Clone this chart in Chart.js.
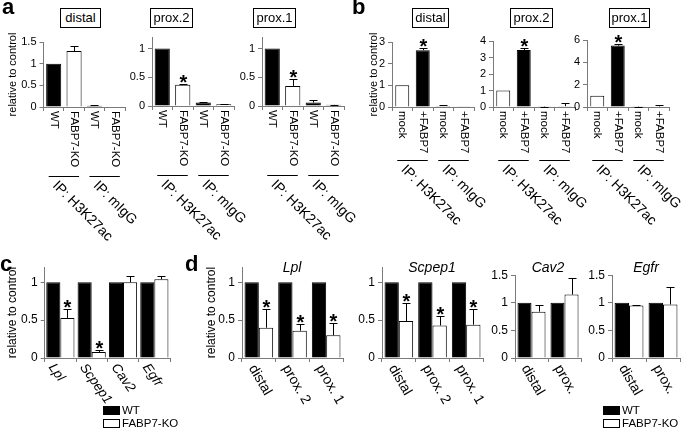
<!DOCTYPE html>
<html lang="en">
<head>
<meta charset="UTF-8">
<title>FABP7 ChIP / qPCR</title>
<script src="https://cdn.jsdelivr.net/npm/chart.js@4.4.0/dist/chart.umd.min.js"></script>
<style>
  body { margin: 0; background: #fff; }
  #fig { position: relative; width: 683px; height: 431px; overflow: hidden; font-family: "Liberation Sans", Arial, sans-serif; color: #000; background: #fff; }
  #fig canvas { position: absolute; }
  .t { position: absolute; white-space: nowrap; line-height: 1; }
  .box { position: absolute; top: 8px; height: 20px; border: 1px solid #000; box-sizing: border-box; line-height: 18px; text-align: center; font-size: 13px; }
  .sw { position: absolute; width: 17px; height: 9px; border: 1px solid #000; box-sizing: border-box; }
</style>
</head>
<body>
<div id="fig"></div>
<script>
// ---- data ----
const catsA = ["WT", "FABP7-KO", "WT", "FABP7-KO"];
const catsB = ["mock", "+FABP7", "mock", "+FABP7"];
const ipGroups = ["IP: H3K27ac", "IP: mIgG"];

// a: FABP7-KO astrocytes, ChIP
const aDistal = [1.0, 1.29, 0.03, 0.005];
const aDistalErr = [0, 0.12, 0.01, 0];
const aDistalStar = [0, 0, 0, 0];
const aProx2 = [1.0, 0.37, 0.06, 0.03];
const aProx2Err = [0, 0.02, 0.01, 0.01];
const aProx2Star = [0, 1, 0, 0];
const aProx1 = [1.0, 0.35, 0.06, 0.02];
const aProx1Err = [0, 0.12, 0.04, 0.005];
const aProx1Star = [0, 1, 0, 0];

// b: FABP7 overexpression, ChIP
const bDistal = [1.0, 2.62, 0.05, 0.01];
const bDistalErr = [0, 0.1, 0.04, 0];
const bDistalStar = [0, 1, 0, 0];
const bProx2 = [1.0, 3.45, 0.02, 0.05];
const bProx2Err = [0, 0.12, 0.01, 0.2];
const bProx2Star = [0, 1, 0, 0];
const bProx1 = [1.0, 5.5, 0.03, 0.05];
const bProx1Err = [0, 0.1, 0.01, 0.12];
const bProx1Star = [0, 1, 0, 0];

// c: mRNA
const genes = ["Lpl", "Scpep1", "Cav2", "Egfr"];
const cWT = [1, 1, 1, 1];
const cKO = [0.53, 0.08, 1.0, 1.04];
const cKOErr = [0.12, 0.02, 0.09, 0.04];
const cKOStar = [1, 1, 0, 0];

// d: H3K27ac at each locus
const regions3 = ["distal", "prox. 2", "prox. 1"];
const regions2 = ["distal", "prox."];
const lplWT = [1, 1, 1];
const lplKO = [0.40, 0.36, 0.30];
const lplKOErr = [0.25, 0.09, 0.16];
const lplKOStar = [1, 1, 1];
const scpWT = [1, 1, 1];
const scpKO = [0.49, 0.43, 0.44];
const scpKOErr = [0.24, 0.12, 0.21];
const scpKOStar = [1, 1, 1];
const cavWT = [1, 1];
const cavKO = [0.84, 1.15];
const cavKOErr = [0.12, 0.30];
const egfWT = [1, 1];
const egfKO = [0.95, 0.97];
const egfKOErr = [0.01, 0.31];

// ---- drawing ----
const fig = document.getElementById('fig');
const AX = '#7a7a7a';
const FF = '"Liberation Sans", Arial, sans-serif';

function text(str, x, base, size, opt = {}) {
  const d = document.createElement('div');
  d.className = 't';
  d.textContent = str;
  d.style.fontSize = size + 'px';
  if (opt.bold) d.style.fontWeight = 'bold';
  if (opt.italic) d.style.fontStyle = 'italic';
  d.style.top = (base - 0.8465 * size) + 'px';
  d.style.left = x + 'px';
  if (opt.center) d.style.transform = 'translateX(-50%)';
  fig.appendChild(d);
}

function titleBox(str, left, width) {
  const d = document.createElement('div');
  d.className = 'box';
  d.textContent = str;
  d.style.left = left + 'px';
  d.style.width = width + 'px';
  fig.appendChild(d);
}

function swatch(left, top, fill) {
  const d = document.createElement('div');
  d.className = 'sw';
  d.style.left = left + 'px';
  d.style.top = top + 'px';
  d.style.background = fill;
  fig.appendChild(d);
}

function bars(c) {
  const padTop = 10, padR = c.padR ?? 20;
  const cv = document.createElement('canvas');
  cv.width = c.yw + (c.right - c.axisX) + padR;
  cv.height = padTop + (c.y0 - c.yTop) + c.padB;
  cv.style.left = (c.axisX - c.yw) + 'px';
  cv.style.top = (c.yTop - padTop) + 'px';
  fig.appendChild(cv);

  const deco = {
    id: 'deco',
    afterDatasetsDraw(ch) {
      const ctx = ch.ctx, ys = ch.scales.y;
      ctx.save();
      ctx.strokeStyle = '#000';
      ctx.fillStyle = '#000';
      ctx.lineWidth = 1;
      c.sets.forEach((s, i) => {
        const meta = ch.getDatasetMeta(i);
        s.data.forEach((v, j) => {
          const x = Math.round(meta.data[j].x) + 0.5;
          let top = ys.getPixelForValue(v);
          const e = s.err ? s.err[j] : 0;
          if (e > 0) {
            const yt = Math.round(ys.getPixelForValue(v + e)) + 0.5;
            ctx.beginPath();
            ctx.moveTo(x, top);
            ctx.lineTo(x, yt);
            ctx.moveTo(x - 4, yt);
            ctx.lineTo(x + 4, yt);
            ctx.stroke();
            top = yt;
          }
          if (s.star && s.star[j]) {
            ctx.font = 'bold 20px ' + FF;
            ctx.textAlign = 'center';
            ctx.textBaseline = 'alphabetic';
            ctx.fillText('*', x, top - 3 + 0.39 * 20);
          }
        });
      });
      ctx.restore();
    },
    afterDraw(ch) {
      const ctx = ch.ctx, xs = ch.scales.x, y0 = ch.chartArea.bottom;
      ctx.save();
      ctx.fillStyle = '#000';
      ctx.strokeStyle = '#000';
      ctx.lineWidth = 1;
      ctx.textAlign = 'left';
      ctx.textBaseline = 'middle';
      ctx.font = c.labFont;
      c.labels.forEach((t, j) => {
        ctx.save();
        ctx.translate(xs.getPixelForValue(j) + c.labDx, y0 + c.labDy);
        ctx.rotate(c.labRot);
        ctx.fillText(t, 0, 0);
        ctx.restore();
      });
      if (c.groups) {
        const ly = Math.round(y0 + c.lineDy) + 0.5;
        ctx.font = '14px ' + FF;
        c.groups.forEach((t, g) => {
          const xa = xs.getPixelForValue(g * 2), xb = xs.getPixelForValue(g * 2 + 1);
          ctx.beginPath();
          ctx.moveTo(xa - 5, ly);
          ctx.lineTo(xb + 5, ly);
          ctx.stroke();
          ctx.save();
          ctx.translate(xa + 1, ly + 7);
          ctx.rotate(Math.PI / 4);
          ctx.fillText(t, 0, 0);
          ctx.restore();
        });
      }
      ctx.restore();
    }
  };

  new Chart(cv, {
    type: 'bar',
    data: {
      labels: c.labels,
      datasets: c.sets.map(s => ({
        data: s.data,
        backgroundColor: s.color,
        borderColor: '#000',
        borderWidth: 1,
        categoryPercentage: c.catPct,
        barPercentage: c.barPct
      }))
    },
    options: {
      responsive: false,
      animation: false,
      events: [],
      layout: { padding: { top: padTop, right: padR, bottom: c.padB, left: 0 } },
      plugins: { legend: { display: false }, tooltip: { enabled: false } },
      scales: {
        x: {
          offset: true,
          ticks: { display: false },
          grid: { drawOnChartArea: false, tickLength: 4, color: AX },
          border: { color: AX },
          afterFit: s => { s.height = 0; }
        },
        y: {
          min: 0,
          max: c.yMax,
          ticks: {
            stepSize: c.step, includeBounds: false, padding: 3, color: '#000',
            font: { family: FF, size: c.tickPx },
            callback: v => String(v)
          },
          grid: { drawOnChartArea: false, tickLength: 4, color: AX },
          border: { color: AX },
          title: {
            display: !!c.title, text: 'relative to control', color: '#000', padding: 0,
            font: { family: FF, size: c.titlePx || 11 }
          },
          afterFit: s => { s.width = c.yw; }
        }
      }
    },
    plugins: [deco]
  });
}

// panel a
const colA = ['#000', '#fff', '#000', '#fff'];
const baseA = { y0: 107, labels: catsA, catPct: 1, barPct: 0.74, tickPx: 11,
  labFont: '11.5px ' + FF, labRot: Math.PI / 2, labDx: 0, labDy: 4,
  groups: ipGroups, lineDy: 69, padB: 145 };
bars({ ...baseA, axisX: 43, right: 125, yMax: 1.5, step: 0.5, yTop: 41.7, yw: 37.5, title: true,
  sets: [{ data: aDistal, err: aDistalErr, star: aDistalStar, color: colA }] });
bars({ ...baseA, axisX: 152, right: 234, yMax: 1.2, step: 0.5, yTop: 37.4, yw: 30,
  sets: [{ data: aProx2, err: aProx2Err, star: aProx2Star, color: colA }] });
bars({ ...baseA, axisX: 262, right: 344, yMax: 1.2, step: 0.5, yTop: 37.4, yw: 30,
  sets: [{ data: aProx1, err: aProx1Err, star: aProx1Star, color: colA }] });

// panel b
const colB = ['#fff', '#000', '#fff', '#000'];
const baseB = { ...baseA, labels: catsB, barPct: 0.68, lineDy: 53 };
bars({ ...baseB, axisX: 392, right: 474, yMax: 3, step: 1, yTop: 41.5, yw: 25, title: true,
  sets: [{ data: bDistal, err: bDistalErr, star: bDistalStar, color: colB }] });
bars({ ...baseB, axisX: 493, right: 575, yMax: 4, step: 1, yTop: 41, yw: 30,
  sets: [{ data: bProx2, err: bProx2Err, star: bProx2Star, color: colB }] });
bars({ ...baseB, axisX: 587, right: 669, yMax: 6, step: 2, yTop: 40, yw: 30,
  sets: [{ data: bProx1, err: bProx1Err, star: bProx1Star, color: colB }] });

// panel c
const baseCD = { y0: 358.5, catPct: 0.9, barPct: 1, tickPx: 12, titlePx: 12,
  labRot: Math.PI / 3, labDx: -7, labDy: 8, padB: 73 };
bars({ ...baseCD, axisX: 45, right: 171, yMax: 1.2, step: 0.5, yTop: 267.3, yw: 39.7, title: true,
  labels: genes, labFont: 'italic 13.5px ' + FF, labRot: 55 * Math.PI / 180, labDx: -9, labDy: 7,
  sets: [{ data: cWT, color: '#000' }, { data: cKO, err: cKOErr, star: cKOStar, color: '#fff' }] });

// panel d
const baseD = { ...baseCD, catPct: 0.85, labFont: '14px ' + FF };
bars({ ...baseD, axisX: 242, right: 343, yMax: 1.2, step: 0.5, yTop: 267.3, yw: 38, title: true,
  labels: regions3,
  sets: [{ data: lplWT, color: '#000' }, { data: lplKO, err: lplKOErr, star: lplKOStar, color: '#fff' }] });
bars({ ...baseD, axisX: 382, right: 483, yMax: 1.2, step: 0.5, yTop: 267.3, yw: 30,
  labels: regions3,
  sets: [{ data: scpWT, color: '#000' }, { data: scpKO, err: scpKOErr, star: scpKOStar, color: '#fff' }] });
bars({ ...baseD, axisX: 515, right: 581, yMax: 1.5, step: 0.5, yTop: 275, yw: 30,
  labels: regions2,
  sets: [{ data: cavWT, color: '#000' }, { data: cavKO, err: cavKOErr, color: '#fff' }] });
bars({ ...baseD, axisX: 612, right: 680, yMax: 1.5, step: 0.5, yTop: 275, yw: 30,
  labels: regions2,
  sets: [{ data: egfWT, color: '#000' }, { data: egfKO, err: egfKOErr, color: '#fff' }] });

// titles, panel letters, legends
titleBox('distal', 60, 41);
titleBox('prox.2', 150, 43);
titleBox('prox.1', 253, 43);
titleBox('distal', 412, 37);
titleBox('prox.2', 510, 43);
titleBox('prox.1', 609, 41);

text('a', 2, 15, 22, { bold: true });
text('b', 352, 15, 22, { bold: true });
text('c', 0, 272, 22, { bold: true });
text('d', 185, 272, 22, { bold: true });

text('Lpl', 292, 272, 14, { italic: true, center: true });
text('Scpep1', 432, 272, 14, { italic: true, center: true });
text('Cav2', 548, 272, 14, { italic: true, center: true });
text('Egfr', 646, 272, 14, { italic: true, center: true });

[[103, 122], [603, 622]].forEach(([bx, tx]) => {
  swatch(bx, 406, '#000');
  swatch(bx, 419, '#fff');
  text('WT', tx, 415, 11.5);
  text('FABP7-KO', tx, 428, 11.5);
});
</script>
</body>
</html>
